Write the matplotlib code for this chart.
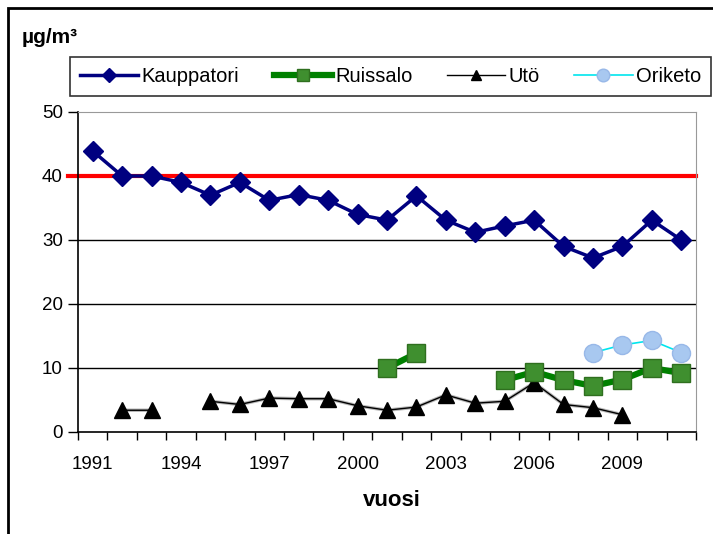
import matplotlib.pyplot as plt
from matplotlib.patches import Rectangle
import numpy as np

plt.rcParams['font.family'] = ['Liberation Sans', 'DejaVu Sans']

# years on the category axis
years = list(range(1991, 2012))
tick_years = [1991, 1994, 1997, 2000, 2003, 2006, 2009]

# annual means, µg/m3 (nan = no value)
nan = np.nan
kauppatori = [43.9, 40, 40, 39, 37, 39, 36.2, 37.1, 36.2, 34, 33.1, 36.9,
              33.1, 31.2, 32.2, 33.1, 29, 27.2, 29, 33.1, 30]
ruissalo = [nan, nan, nan, nan, nan, nan, nan, nan, nan, nan, 10, 12.3,
            nan, nan, 8.1, 9.4, 8.1, 7.2, 8.2, 10, 9.2]
uto = [nan, 3.4, 3.4, nan, 4.8, 4.3, 5.3, 5.2, 5.2, 4.1, 3.4, 3.9,
       5.8, 4.5, 4.8, 7.7, 4.3, 3.8, 2.7, nan, nan]
oriketo = [nan, nan, nan, nan, nan, nan, nan, nan, nan, nan, nan, nan,
           nan, nan, nan, nan, nan, 12.4, 13.6, 14.3, 12.4]
limit = 40

W, H = 713, 534
fig = plt.figure(figsize=(W / 100, H / 100), dpi=100)
ax = fig.add_axes([78 / W, (H - 432) / H, (696 - 78) / W, (432 - 112) / H])

x = np.arange(len(years))

for y in [10, 20, 30]:
    ax.axhline(y, color='black', lw=1, zorder=1)
ax.plot([-0.85, len(years) - 0.5], [limit, limit], color='#ff0000', lw=3,
        clip_on=False, zorder=2)

ax.plot(x, uto, color='#888888', lw=2.5, alpha=0.6, zorder=3)
ax.plot(x, uto, color='black', lw=1, marker='^', ms=11,
        mfc='black', mec='black', label='Utö', zorder=4)
ax.plot(x, ruissalo, color='#008000', lw=4.5, marker='s', ms=13,
        mfc='#3f8f2f', mec='#2f6f1f', mew=1, label='Ruissalo', zorder=5)
ax.plot(x, oriketo, color='#00e5ee', lw=1.2, marker='o', ms=13,
        mfc='#a8c8f0', mec='#98b8e8', mew=1, label='Oriketo', zorder=5)
ax.plot(x, kauppatori, color='#000080', lw=2.5, marker='D', ms=10,
        mfc='#000080', mec='#000080', label='Kauppatori', zorder=6)

ax.set_xlim(-0.5, len(years) - 0.5)
ax.set_ylim(0, 50)
ax.set_yticks([0, 10, 20, 30, 40, 50])
ax.tick_params(axis='y', length=7, width=1, labelsize=13.5, pad=4)
ax.set_xticks(np.arange(len(years) + 1) - 0.5)
ax.set_xticklabels([])
ax.tick_params(axis='x', length=6, width=1, direction='out')
for yr in tick_years:
    ax.text(years.index(yr), -3.7, str(yr), ha='center', va='top', fontsize=13.5,
            transform=ax.transData)

for s in ['top', 'right']:
    ax.spines[s].set_color('#999999')
    ax.spines[s].set_linestyle((0, (1, 1)))
ax.spines['left'].set_linewidth(1.2)
ax.spines['bottom'].set_linewidth(1.2)

h, l = ax.get_legend_handles_labels()
order = [3, 1, 0, 2]
leg = fig.legend([h[i] for i in order], [l[i] for i in order],
                 loc='upper left',
                 bbox_to_anchor=(70 / W, 1 - 103 / H, 641 / W, 46 / H),
                 mode='expand', ncol=4, frameon=True, fontsize=14.5,
                 handlelength=2.9, handletextpad=0.15, borderpad=0.5,
                 markerscale=0.7, fancybox=False, borderaxespad=0)
leg.get_frame().set_edgecolor('black')
leg.get_frame().set_linewidth(1.2)

fig.text(22 / W, 1 - 37 / H, 'µg/m³', fontsize=15, fontweight='bold',
         va='center', ha='left')
fig.text(392 / W, 1 - 500 / H, 'vuosi', fontsize=16, fontweight='bold',
         va='center', ha='center')

# outer frame of the chart area
fig.patches.append(Rectangle((8 / W, -0.1), 1.2, 1 - 8 / H + 0.1,
                             transform=fig.transFigure, fill=False,
                             edgecolor='black', lw=2))

fig.savefig('out.png', dpi=100)
